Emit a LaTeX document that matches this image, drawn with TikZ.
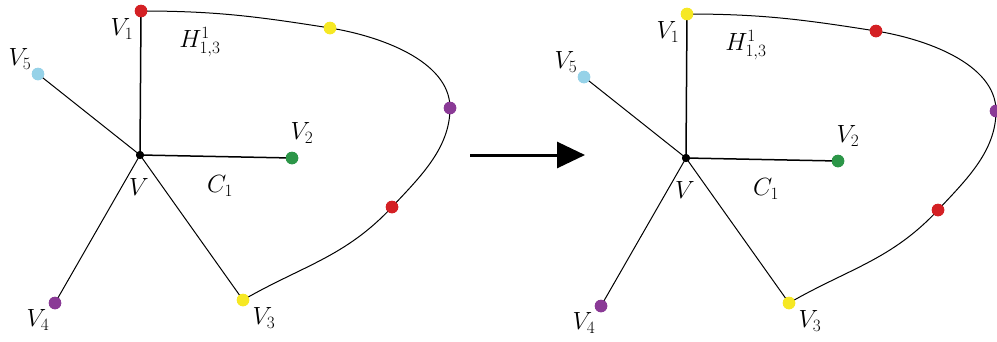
\documentclass[tikz,border=0pt]{standalone}
\usetikzlibrary{arrows.meta}
\definecolor{dred}{RGB}{212,32,36}
\definecolor{dyel}{RGB}{246,232,36}
\definecolor{dpur}{RGB}{138,58,150}
\definecolor{dcya}{RGB}{150,210,232}
\definecolor{dgrn}{RGB}{44,150,72}
\begin{document}
\begin{tikzpicture}[x=1pt,y=-1pt,
  dot/.style={circle,fill=#1,inner sep=0pt,minimum size=12.5pt},
  cdot/.style={circle,fill=black,inner sep=0pt,minimum size=8pt},
  edge/.style={line width=1pt,black},
  tedge/.style={line width=1.5pt,black},
  lab/.style={font=\fontsize{27}{27}\selectfont,inner sep=0pt}]
\useasboundingbox (0,0) rectangle (997,341);
\clip (0,0) rectangle (997,341);
% ---------- left graph ----------
\begin{scope}
\node[cdot] (aV) at (140,155) {};
\node[dot=dred] (aV1) at (141,11) {};
\node[dot=dcya] (aV5) at (38,74) {};
\node[dot=dgrn] (aV2) at (292,158) {};
\node[dot=dpur] (aV4) at (55,303) {};
\node[dot=dyel] (aV3) at (243,300) {};
\node[dot=dyel] (ac1) at (330,28) {};
\node[dot=dpur] (ac2) at (450,108) {};
\node[dot=dred] (ac3) at (392,207) {};
\draw[tedge] (aV.center) -- (aV1.center);
\draw[tedge] (aV.center) -- (aV2.center);
\draw[edge] (aV.center) -- (aV5.center);
\draw[edge] (aV.center) -- (aV4.center);
\draw[edge] (aV.center) -- (aV3.center);
\draw[edge] (aV1.center) to[out=0,in=171] (ac1.center)
  to[out=-9,in=90,looseness=0.85] (ac2.center)
  to[out=-90,in=47,looseness=0.9] (ac3.center)
  to[out=-133,in=30] (aV3.center);
\node[cdot] at (aV) {};
\foreach \n/\c in {aV1/dred,aV5/dcya,aV2/dgrn,aV4/dpur,aV3/dyel,ac1/dyel,ac2/dpur,ac3/dred}
  \node[dot=\c] at (\n) {};
\node[lab] (aLV1) at (122,29) {$V_1$};
\node[lab] (aLH) at (200,42) {$H^1_{1,3}$};
\node[lab] (aLV5) at (20,59) {$V_5$};
\node[lab] (aLV2) at (302,133) {$V_2$};
\node[lab] (aLV) at (139,187) {$V$};
\node[lab] (aLC) at (220,186) {$C_1$};
\node[lab] (aLV4) at (38,320) {$V_4$};
\node[lab] (aLV3) at (264,318) {$V_3$};
\end{scope}
% ---------- arrow ----------
\coordinate (ar1) at (470,155);
\coordinate (ar2) at (585,155);
\draw[line width=3pt,-{Triangle[length=28pt,width=26pt]}] (ar1) -- (ar2);
% ---------- right graph ----------
\begin{scope}[shift={(546,3)}]
\node[cdot] (bV) at (140,155) {};
\node[dot=dyel] (bV1) at (141,11) {};
\node[dot=dcya] (bV5) at (38,74) {};
\node[dot=dgrn] (bV2) at (292,158) {};
\node[dot=dpur] (bV4) at (55,303) {};
\node[dot=dyel] (bV3) at (243,300) {};
\node[dot=dred] (bc1) at (330,28) {};
\node[dot=dpur] (bc2) at (450,108) {};
\node[dot=dred] (bc3) at (392,207) {};
\draw[tedge] (bV.center) -- (bV1.center);
\draw[tedge] (bV.center) -- (bV2.center);
\draw[edge] (bV.center) -- (bV5.center);
\draw[edge] (bV.center) -- (bV4.center);
\draw[edge] (bV.center) -- (bV3.center);
\draw[edge] (bV1.center) to[out=0,in=171] (bc1.center)
  to[out=-9,in=90,looseness=0.85] (bc2.center)
  to[out=-90,in=47,looseness=0.9] (bc3.center)
  to[out=-133,in=30] (bV3.center);
\node[cdot] at (bV) {};
\foreach \n/\c in {bV1/dyel,bV5/dcya,bV2/dgrn,bV4/dpur,bV3/dyel,bc1/dred,bc2/dpur,bc3/dred}
  \node[dot=\c] at (\n) {};
\node[lab] (bLV1) at (122,29) {$V_1$};
\node[lab] (bLH) at (200,42) {$H^1_{1,3}$};
\node[lab] (bLV5) at (20,59) {$V_5$};
\node[lab] (bLV2) at (302,133) {$V_2$};
\node[lab] (bLV) at (139,187) {$V$};
\node[lab] (bLC) at (220,186) {$C_1$};
\node[lab] (bLV4) at (38,320) {$V_4$};
\node[lab] (bLV3) at (264,318) {$V_3$};
\end{scope}
\end{tikzpicture}
\end{document}
